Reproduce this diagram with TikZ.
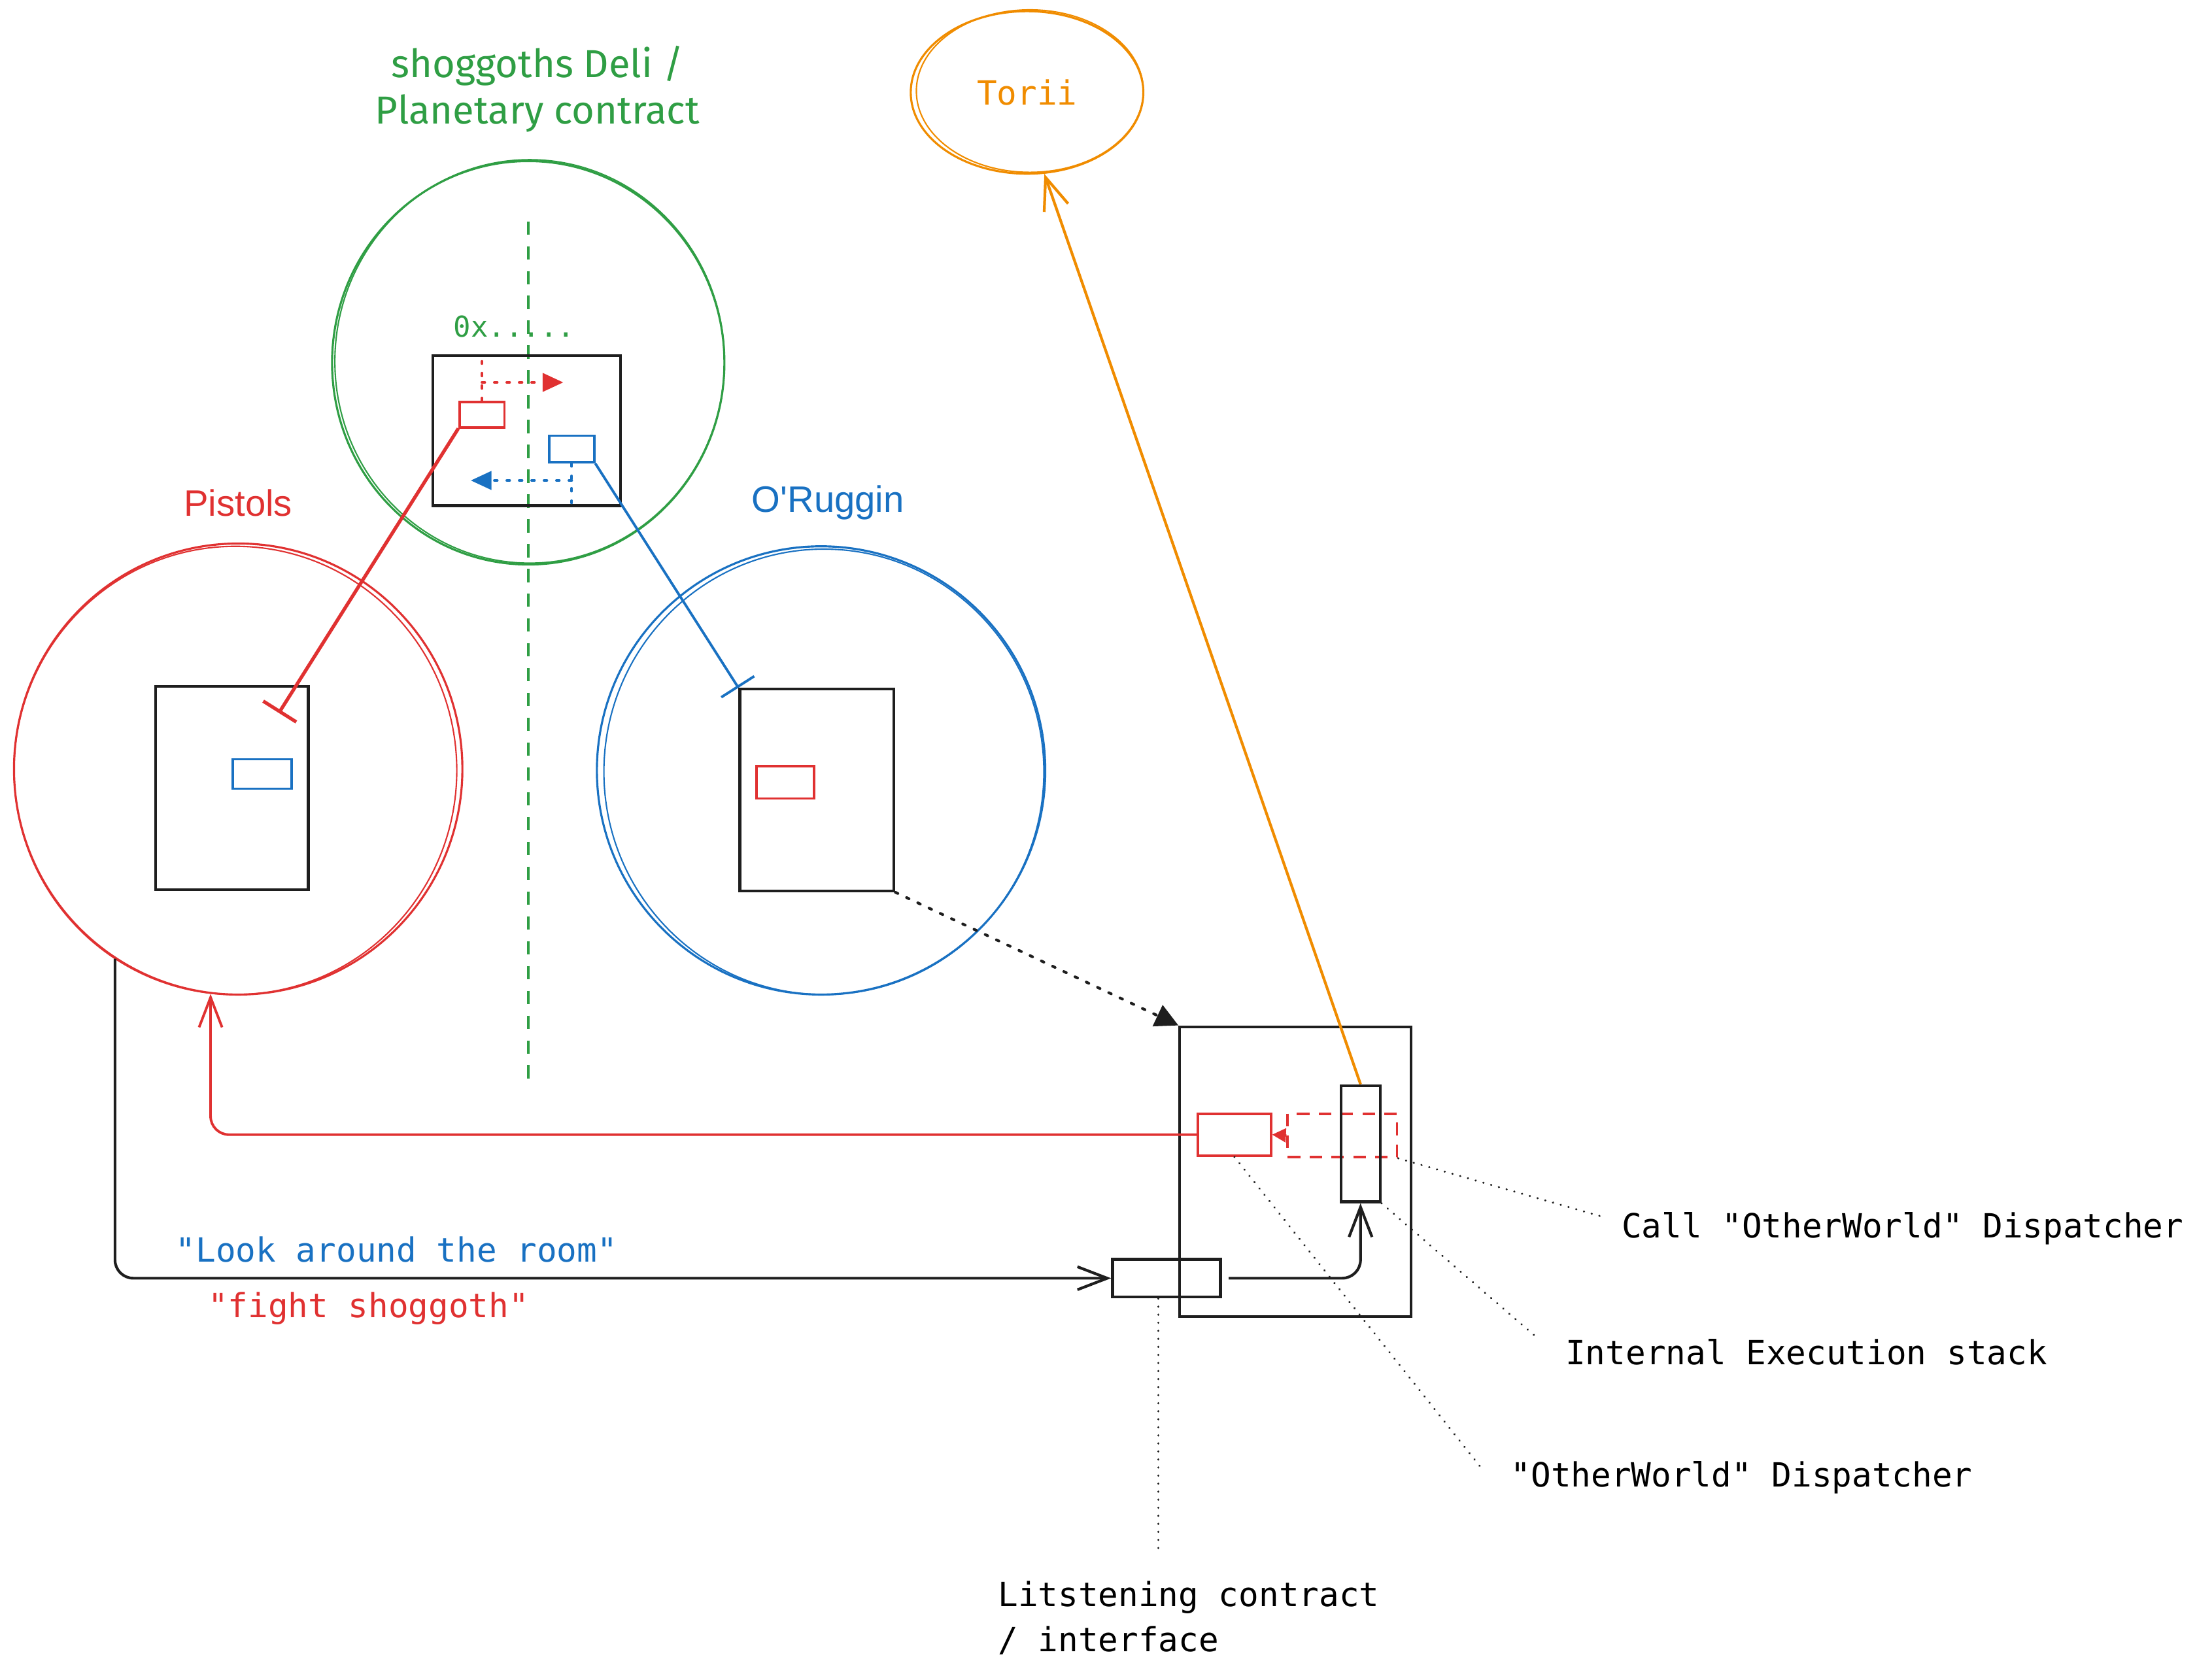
\documentclass[tikz,border=0pt]{standalone}
\usepackage{fontspec}
\newfontfamily\monofont{DejaVu Sans Mono}
\newfontfamily\labelfont{Liberation Sans}
\newfontfamily\handfont{Fira Sans}
\usetikzlibrary{arrows.meta,positioning,shapes.geometric}
\newcommand{\spx}{0.02143cm}
\definecolor{ink}{HTML}{1E1E1E}
\definecolor{exred}{HTML}{E03131}
\definecolor{exblue}{HTML}{1971C2}
\definecolor{exgreen}{HTML}{2F9E44}
\definecolor{exorange}{HTML}{F08C00}
\tikzset{
  frame/.style={
    rectangle,
    draw=ink,
    line width=1.2pt,
    inner sep=0pt
  },
  slot/.style={
    rectangle,
    draw=#1,
    line width=1.1pt,
    inner sep=0pt
  },
  dims/.style 2 args={
    minimum width=#1*\spx,
    minimum height=#2*\spx
  },
  ring/.style={
    ellipse,
    draw=#1,
    line width=0.9pt,
    inner sep=0pt
  },
  ringtrace/.style={
    draw=#1,
    line width=0.6pt
  },
  monotag/.style={
    inner sep=0pt,
    font=\monofont\fontsize{14.5}{19.5}\selectfont
  },
  caption/.style={
    inner sep=0pt,
    font=\labelfont\fontsize{16}{19}\selectfont
  },
  headline/.style={
    inner sep=0pt,
    align=center,
    text=exgreen,
    font=\handfont\fontsize{17}{20}\selectfont
  },
  wire/.style={
    draw=#1,
    line width=1.1pt
  },
  link/.style={
    draw=ink,
    line width=1.2pt,
    rounded corners=8pt,
    -{Straight Barb[length=13pt,width=10pt]}
  },
  hop/.style={
    draw=#1,
    line width=1.2pt,
    line cap=round,
    dash pattern=on 1.2pt off 4.2pt
  },
  axisline/.style={
    draw=exgreen,
    line width=1.1pt,
    dash pattern=on 5.8pt off 5pt
  },
  leader/.style={
    draw=ink,
    line width=0.9pt,
    line cap=round,
    dash pattern=on 0.1pt off 3.4pt
  }
}
\begin{document}
\begin{tikzpicture}[x=\spx, y=-\spx, node distance=11pt]
  \useasboundingbox (0,0) rectangle (1568,1199);

  \node[ring=exorange, dims={166}{116}, monotag, text=exorange] (torii) at (733,66) {Torii};
  \node[ring=exgreen, dims={280}{288}] (deli) at (377,259) {};
  \node[ring=exred, dims={320}{322}] (pistols) at (170,549) {};
  \node[ring=exblue, dims={320}{320}] (oruggin) at (586,550) {};
  \draw[ringtrace=exorange] ([shift={(2,-1)}]torii.center) ellipse [x radius=81*\spx, y radius=58*\spx];
  \draw[ringtrace=exgreen] ([shift={(1,-1)}]deli.center) ellipse [x radius=139*\spx, y radius=144*\spx];
  \draw[ringtrace=exred] ([shift={(-2,1)}]pistols.center) ellipse [x radius=158*\spx, y radius=160*\spx];
  \draw[ringtrace=exblue] ([shift={(2,1)}]oruggin.center) ellipse [x radius=157*\spx, y radius=159*\spx];

  \node[headline, above=12pt of deli, xshift=4pt] (deliTitle) {shoggoths Deli /\\Planetary contract};
  \node[caption, text=exred, above=of pistols] (pistolsLbl) {Pistols};
  \node[caption, text=exblue, above=of oruggin, xshift=3pt] (ruggLbl) {O'Ruggin};

  \coordinate (axisTop) at (377,158);
  \coordinate (axisEnd) at (377,775);
  \draw[axisline] (axisTop) -- (axisEnd);

  \node[frame, dims={134}{107}] (deliBox) at (376,307.5) {};
  \node[slot=exred, dims={32}{18}] (deliRed) at (344,296) {};
  \node[slot=exblue, dims={32}{19}] (deliBlue) at (408,320.5) {};
  \node[monotag, text=exgreen, font=\monofont\fontsize{12.5}{15}\selectfont] (hexLbl) at (367,233) {0x.....};
  \node[frame, dims={109}{145}] (pistolsBox) at (165.5,562.5) {};
  \node[slot=exblue, dims={42}{21}] (pistolsBlue) at (187,552.5) {};
  \node[frame, dims={110}{144}] (ruggBox) at (583,564) {};
  \node[slot=exred, dims={41}{23}] (ruggRed) at (560.5,558.5) {};
  \node[frame, dims={165}{207}] (dispBox) at (924.5,836.5) {};
  \node[slot=exred, dims={52}{30}] (dispRed) at (881,810) {};
  \node[slot=exred, dims={78}{31}, dash pattern=on 5.5pt off 4pt] (dispCall) at (958,810.5) {};
  \node[frame, dims={28}{83}] (stack) at (971,816.5) {};
  \node[frame, dims={77}{27}] (listen) at (832.5,912.5) {};

  \node[monotag, text=exblue] (lookLbl) at (283,892) {"Look around the room"};
  \node[monotag, text=exred] (fightLbl) at (263,934) {"fight shoggoth"};
  \node[monotag, anchor=west] (callLbl) at (1157,877) {Call "OtherWorld" Dispatcher};
  \node[monotag, anchor=west] (execLbl) at (1117,965) {Internal Execution stack};
  \node[monotag, anchor=west] (dispLbl) at (1078,1055) {"OtherWorld" Dispatcher};
  \node[monotag, anchor=west, align=left] (listenLbl) at (712,1155) {Litstening contract\\/ interface};

  \coordinate (redUp) at (344,258);
  \coordinate (redTurn) at (344,273);
  \coordinate (redTip) at (402,273);
  \coordinate (blueDown) at (408,359);
  \coordinate (blueTurn) at (408,343);
  \coordinate (blueTip) at (336,343);
  \coordinate (redHit) at (199,509);

  \draw[hop=exred] (deliRed.north) -- (redUp);
  \draw[hop=exred, -{Triangle[length=9pt,width=8pt]}] (redTurn) -- (redTip);
  \draw[hop=exblue] (deliBlue.south) -- (blueDown);
  \draw[hop=exblue, -{Triangle[length=9pt,width=8pt]}] (blueTurn) -- (blueTip);
  \draw[wire=exred, line width=1.5pt, -{Bar[width=17pt]}] (deliRed.south west) -- (redHit);
  \draw[wire=exblue, -{Bar[width=17pt]}] (deliBlue.south east) -- (ruggBox.north west);
  \draw[hop=ink, -{Triangle[length=10pt,width=10pt]}] (ruggBox.south east) -- (dispBox.north west);
  \draw[wire=exorange, line width=1.2pt, -{Straight Barb[length=14pt,width=11pt]}] (stack.north) -- (torii.-78);
  \draw[wire=exred, rounded corners=8pt, -{Straight Barb[length=13pt,width=10pt]}] (dispRed.west) -| (pistols.-97);
  \draw[link] (pistols.-123) |- (listen.west);
  \draw[link, shorten <=3pt] (listen.east) -| (stack.south);
  \draw[wire=exred, -{Triangle[length=6pt,width=6pt]}] (dispCall.west) -- (dispRed.east);

  \draw[leader] (dispCall.south east) -- ([shift={(-12,-8)}]callLbl.west);
  \draw[leader] (stack.south east) -- ([shift={(-20,-10)}]execLbl.west);
  \draw[leader] (dispRed.south) -- ([shift={(-20,-6)}]dispLbl.west);
  \draw[leader, shorten >=12pt] ([xshift=-3.5pt]listen.south) -- ([xshift=-3.5pt]listen.south |- listenLbl.north);
\end{tikzpicture}
\end{document}
